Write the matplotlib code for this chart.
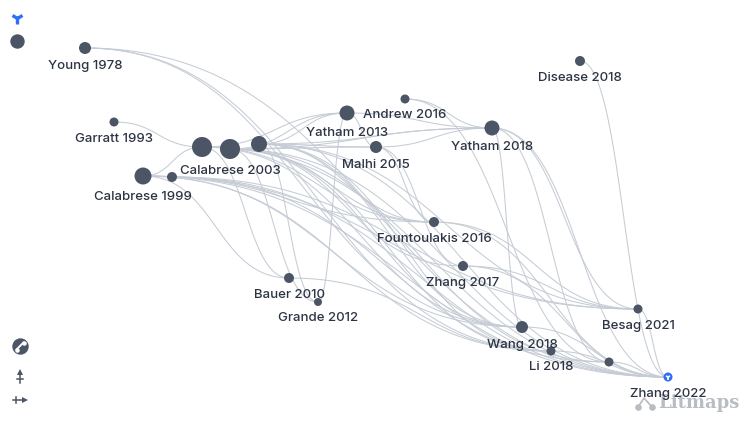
import numpy as np
import matplotlib
matplotlib.use("Agg")
import matplotlib.pyplot as plt

# -------------------------------
# Data: papers (pixel layout) and citation links
# -------------------------------
node_keys = ["young", "garratt", "cal99", "cal99b", "cal03a", "cal03", "cal03c",
             "yat13", "andrew", "malhi", "yat18", "disease", "fount", "zh17",
             "bauer", "grande", "besag", "wang", "li", "n19", "zh22"]
node_labels = ["Young 1978", "Garratt 1993", "Calabrese 1999", "", "", "Calabrese 2003", "",
               "Yatham 2013", "Andrew 2016", "Malhi 2015", "Yatham 2018", "Disease 2018",
               "Fountoulakis 2016", "Zhang 2017", "Bauer 2010", "Grande 2012",
               "Besag 2021", "Wang 2018", "Li 2018", "", "Zhang 2022"]
node_x = [85, 114, 143, 172, 202, 230, 259, 347, 405, 376, 492, 580,
          434, 463, 289, 318, 638, 522, 551, 609, 668]
node_y = [48, 122, 176, 177, 147, 149, 144, 113, 99, 147, 128, 61,
          222, 266, 278, 302, 309, 327, 351, 362, 377]
node_r = [6, 4.5, 8.5, 5, 10, 10, 8, 7.5, 4.5, 6, 7.5, 5,
          5, 5, 5, 4, 4.5, 6, 4.5, 4.5, 4.5]

edges = [
    ("young", "zh22"), ("young", "wang"), ("young", "li"),
    ("garratt", "cal03a"),
    ("cal99", "cal03a"), ("cal99", "bauer"), ("cal99", "fount"),
    ("cal99", "wang"), ("cal99", "li"), ("cal99", "zh22"), ("cal99", "besag"),
    ("cal99b", "zh22"), ("cal99b", "n19"), ("cal99b", "besag"),
    ("cal03a", "yat13"), ("cal03a", "bauer"), ("cal03a", "fount"), ("cal03a", "wang"),
    ("cal03a", "zh22"),
    ("cal03", "yat13"), ("cal03", "malhi"), ("cal03", "yat18"), ("cal03", "fount"),
    ("cal03", "zh17"), ("cal03", "wang"), ("cal03", "li"), ("cal03", "zh22"),
    ("cal03", "grande"), ("cal03", "n19"),
    ("cal03c", "yat13"), ("cal03c", "yat18"), ("cal03c", "malhi"), ("cal03c", "fount"),
    ("cal03c", "besag"), ("cal03c", "zh22"), ("cal03c", "grande"), ("cal03c", "wang"),
    ("cal03c", "li"),
    ("yat13", "yat18"), ("grande", "yat13"), ("yat13", "malhi"),
    ("andrew", "yat18"), ("andrew", "n19"),
    ("malhi", "yat18"), ("malhi", "fount"), ("malhi", "zh17"),
    ("yat18", "wang"), ("yat18", "n19"), ("yat18", "zh22"), ("yat18", "besag"),
    ("disease", "zh22"),
    ("fount", "besag"), ("fount", "zh22"),
    ("zh17", "besag"), ("zh17", "zh22"),
    ("bauer", "li"),
    ("wang", "zh22"), ("li", "zh22"), ("n19", "zh22"), ("besag", "zh22"),
]

seed = "zh22"

NODE_COL = "#4b5565"
TEXT_COL = "#2c3444"
EDGE_COL = "#c6ccd5"
SEED_COL = "#2f6ef5"
MARK_COL = "#b8bcc3"

plt.rcParams["font.family"] = ["Inter", "DejaVu Sans"]

fig = plt.figure(figsize=(7.5, 4.24), dpi=100)
ax = fig.add_axes([0, 0, 1, 1])
ax.set_xlim(0, 750)
ax.set_ylim(424, 0)
ax.axis("off")

pos = {k: (x, y) for k, x, y in zip(node_keys, node_x, node_y)}

# -------------------------------
# Links: horizontal cubic curves (flat at both ends)
# -------------------------------
t = np.linspace(0, 1, 80)[:, None]
for a, b in edges:
    p0 = np.array(pos[a], float)
    p1 = np.array(pos[b], float)
    mx = (p0[0] + p1[0]) / 2
    c1 = np.array([mx, p0[1]])
    c2 = np.array([mx, p1[1]])
    curve = ((1 - t) ** 3) * p0 + 3 * ((1 - t) ** 2) * t * c1 + 3 * (1 - t) * t ** 2 * c2 + t ** 3 * p1
    ax.plot(curve[:, 0], curve[:, 1], color=EDGE_COL, lw=0.75, zorder=1)

# -------------------------------
# Nodes + labels
# -------------------------------
for k, x, y, r, lab in zip(node_keys, node_x, node_y, node_r, node_labels):
    col = SEED_COL if k == seed else NODE_COL
    ax.scatter([x], [y], s=(1.44 * r) ** 2, color=col, edgecolors="none", zorder=3)
    if lab:
        ax.text(x, y + r + 12, lab, ha="center", va="center", fontsize=9.5,
                fontweight="medium", color=TEXT_COL, zorder=4)

# seed sprout glyph
ax.plot([pos[seed][0]], [pos[seed][1]], marker="1", color="white", ms=4, mew=1.2, zorder=5)

# -------------------------------
# UI bits: sprout, legend dot, tool icons, watermark
# -------------------------------
ax.plot([17], [18], marker="1", color=SEED_COL, ms=9, mew=2.4, zorder=5)
ax.scatter([17], [41], s=(1.44 * 6.5) ** 2, color=NODE_COL, zorder=5)

ax.scatter([20], [346], s=(1.44 * 7.5) ** 2, color=NODE_COL, zorder=5)
ax.plot([16.5, 23.5], [349.5, 342.5], color="white", lw=1.4, zorder=6)
ax.scatter([16.5, 23.5], [349.5, 342.5], s=5, color="white", zorder=6)

# vertical-axis icon
ax.plot([20, 20], [383, 372], color=NODE_COL, lw=1.1)
ax.plot([20], [371.5], marker="^", color=NODE_COL, ms=4.5, mew=0)
ax.plot([17, 23], [379, 379], color=NODE_COL, lw=1.1)
# horizontal-axis icon
ax.plot([13, 24], [400, 400], color=NODE_COL, lw=1.1)
ax.plot([25], [400], marker=">", color=NODE_COL, ms=4.5, mew=0)
ax.plot([16, 16], [397, 403], color=NODE_COL, lw=1.1)

ax.text(699, 403, "Litmaps", ha="center", va="center", fontsize=13, fontweight="bold",
        family=["DejaVu Serif"], color=MARK_COL, zorder=2)
ax.plot([638, 644, 652], [407, 398, 407], color=MARK_COL, lw=1.2, zorder=2)
ax.scatter([638, 652], [407, 407], s=14, color=MARK_COL, zorder=2)

fig.savefig("out.png", dpi=100)
